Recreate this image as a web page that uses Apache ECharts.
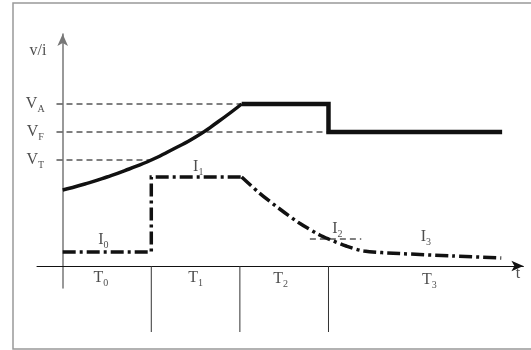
<!DOCTYPE html>
<html><head><meta charset="utf-8">
<script src="https://cdn.jsdelivr.net/npm/echarts@6/dist/echarts.min.js"></script>
<style>html,body{margin:0;padding:0;background:#fff}#c{width:531px;height:350px}</style>
</head><body><div id="c"></div>
<script>
// ---- data (t in phase units, value in arbitrary v/i units) ----
const phaseBounds = [1, 2, 3];
const phaseNames = ['T0', 'T1', 'T2', 'T3'];
const levelNames = ['A', 'F', 'T'];
const levelValues = [162, 134, 106];
const levelEnds = [2.02, 2.99, 0.98];
const vCurveT = [0, 0.25, 0.5, 0.75, 1.0, 1.25, 1.5, 1.75, 2.02];
const vCurveV = [76, 82, 89, 97, 106, 117, 129, 144, 162];
const vStepT = [2.02, 3.0, 3.0, 4.96];
const vStepV = [162, 162, 134, 134];
const iStepT = [0, 1.0, 1.0, 2.02];
const iStepV = [14, 14, 89, 89];
const iDecayT = [2.02, 2.22, 2.45, 2.67, 2.9, 3.0, 3.2, 3.4, 3.8, 4.4, 4.95];
const iDecayV = [89, 73, 57, 43, 31, 27, 20, 15, 12.5, 10, 8];
const i2MarkT = [2.79, 3.37];
const i2MarkV = 27;

const zip = (a, b) => a.map((x, k) => [x, b[k]]);
const FONT = '"Liberation Serif", "DejaVu Serif", serif';

// text annotations: [t, value, main, subscript]
const notes = [
  [-0.28, 215, 'v/i', ''],
  [-0.31, 162, 'V', levelNames[0]],
  [-0.31, 134, 'V', levelNames[1]],
  [-0.31, 106, 'V', levelNames[2]],
  [0.46, 26, 'I', '0'],
  [1.53, 99, 'I', '1'],
  [3.1, 37, 'I', '2'],
  [4.1, 29, 'I', '3'],
  [0.43, -12, phaseNames[0][0], phaseNames[0][1]],
  [1.5, -12, phaseNames[1][0], phaseNames[1][1]],
  [2.46, -13, phaseNames[2][0], phaseNames[2][1]],
  [4.14, -14, phaseNames[3][0], phaseNames[3][1]],
  [5.14, -8, 't', '']
];

const chart = echarts.init(document.getElementById('c'));
const dashLine = (pts) => ({
  type: 'line', data: pts, symbol: 'none', silent: true, clip: false,
  lineStyle: { color: '#000', width: 1, type: [6, 4] }
});
const series = [];
levelValues.forEach((v, k) => series.push(dashLine([[-0.07, v], [levelEnds[k], v]])));
series.push(dashLine([[i2MarkT[0], i2MarkV], [i2MarkT[1], i2MarkV]]));
phaseBounds.forEach(t => series.push({
  type: 'line', data: [[t, 0], [t, -66]], symbol: 'none', silent: true, clip: false,
  lineStyle: { color: '#333', width: 1 }
}));
series.push({
  name: 'v', type: 'line', data: zip(vCurveT, vCurveV), smooth: 0.6, symbol: 'none',
  lineStyle: { color: '#111', width: 3.5 }
});
series.push({
  name: 'v2', type: 'line', data: zip(vStepT, vStepV), symbol: 'none',
  lineStyle: { color: '#111', width: 4.5, join: 'miter' }
});
series.push({
  name: 'i', type: 'line', data: zip(iStepT, iStepV), symbol: 'none',
  lineStyle: { color: '#111', width: 3.5, type: [13, 4, 3, 4], join: 'miter' }
});
series.push({
  name: 'i2', type: 'line', data: zip(iDecayT, iDecayV), smooth: 0.3, symbol: 'none',
  lineStyle: { color: '#111', width: 3.5, type: [13, 4, 3, 4] }
});
series.push({
  type: 'scatter', symbolSize: 0, clip: false, silent: true,
  data: notes.map(n => ({
    value: [n[0], n[1]],
    label: {
      show: true, position: 'inside',
      formatter: n[3] ? n[2] + '{s|' + n[3] + '}' : n[2],
      fontFamily: FONT, fontSize: 16, color: '#222',
      rich: { s: { fontFamily: FONT, fontSize: 10, color: '#222', padding: [10, 0, 0, 0] } }
    }
  }))
});

chart.setOption({
  animation: false,
  grid: { left: 37, right: 7.6, top: 34, bottom: 62 },
  xAxis: {
    type: 'value', min: -0.29, max: 5.2,
    axisLine: { show: true, onZero: true, symbol: ['none', 'arrow'], symbolSize: [8, 12],
      lineStyle: { color: '#111', width: 1 } },
    axisTick: { show: false }, axisLabel: { show: false }, splitLine: { show: false }
  },
  yAxis: {
    type: 'value', min: -22, max: 232,
    axisLine: { show: true, onZero: true, symbol: ['none', 'arrow'], symbolSize: [8, 12],
      lineStyle: { color: '#777', width: 1.5 } },
    axisTick: { show: false }, axisLabel: { show: false }, splitLine: { show: false }
  },
  graphic: [{
    type: 'rect', shape: { x: 13, y: 3, width: 540, height: 346 },
    style: { fill: 'none', stroke: '#999', lineWidth: 1.5 }, silent: true
  }],
  series: series
});
</script></body></html>
